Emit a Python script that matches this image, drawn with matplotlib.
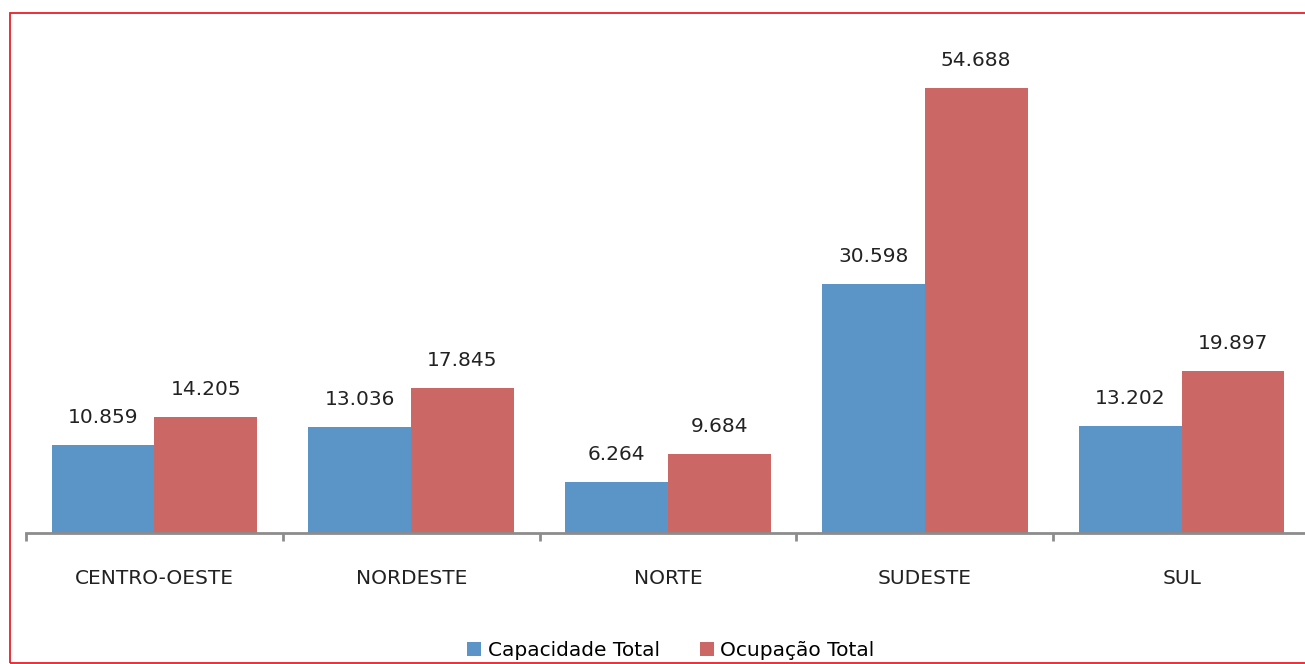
import matplotlib.pyplot as plt
import matplotlib.patches as patches
import numpy as np

regioes = ["CENTRO-OESTE", "NORDESTE", "NORTE", "SUDESTE", "SUL"]
capacidade = [10859, 13036, 6264, 30598, 13202]
ocupacao = [14205, 17845, 9684, 54688, 19897]
series = ["Capacidade Total", "Ocupação Total"]

azul = "#5b95c8"
vermelho = "#cb6764"
fs = 14.5

fig = plt.figure(figsize=(13.05, 6.64), dpi=100)
# eixo: de x=26px ate alem da borda direita, base em y=533px
ax = fig.add_axes([26 / 1305, 131 / 664, 1284 / 1305, 500 / 664])

x = np.arange(len(regioes))
w = 0.4
b1 = ax.bar(x - w / 2, capacidade, w, color=azul, label=series[0])
b2 = ax.bar(x + w / 2, ocupacao, w, color=vermelho, label=series[1])

def fmt(v):
    return f"{v:,}".replace(",", ".")

ax.bar_label(b1, labels=[fmt(v) for v in capacidade], padding=13, fontsize=fs, color="#222222")
ax.bar_label(b2, labels=[fmt(v) for v in ocupacao], padding=13, fontsize=fs, color="#222222")

ax.set_xlim(-0.5, len(regioes) - 0.5)
ax.set_ylim(0, 500 / 8.137 * 1000)

for s in ["top", "right", "left"]:
    ax.spines[s].set_visible(False)
ax.spines["bottom"].set_color("#8c8c8c")
ax.spines["bottom"].set_linewidth(2)
ax.set_yticks([])

ax.set_xticks(x)
ax.set_xticklabels(regioes, fontsize=fs, color="#222222")
ax.tick_params(axis="x", which="major", length=0, pad=26)
ax.set_xticks(np.arange(len(regioes) + 1) - 0.5, minor=True)
ax.tick_params(axis="x", which="minor", length=6, width=2, color="#8c8c8c", direction="out")

fig.legend(loc="center", bbox_to_anchor=(0.514, 0.02), ncol=2, frameon=False,
           fontsize=fs, handlelength=0.7, handleheight=0.7, handletextpad=0.3,
           columnspacing=2.0)

# moldura vermelha
borda = patches.Rectangle((10 / 1305, 1 / 664), 1.02, 650 / 664, transform=fig.transFigure,
                          fill=False, edgecolor="#e8202a", linewidth=1.3, clip_on=False)
fig.patches.append(borda)

fig.savefig("out.png", dpi=100)
